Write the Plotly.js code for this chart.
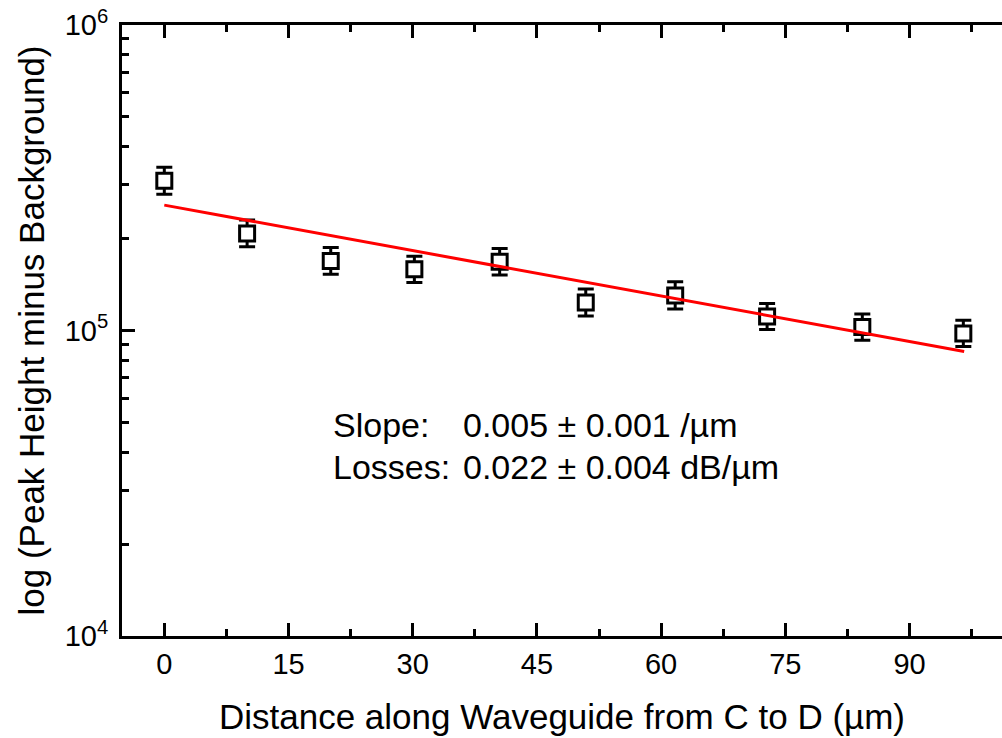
<!DOCTYPE html>
<html>
<head>
<meta charset="utf-8">
<script src="https://cdn.plot.ly/plotly-3.0.1.min.js"></script>
<style>
html,body{margin:0;padding:0;overflow:hidden;background:#fff;}
#chart{width:1002px;height:738px;}
</style>
</head>
<body>
<div id="chart"></div>
<script>
// Measured data (distance in µm, peak height minus background)
const distance = [0, 10, 20.1, 30.2, 40.5, 50.9, 61.7, 72.8, 84.3, 96.5];
const peakHeight = [309000, 207800, 169000, 158800, 167800, 123500, 130300, 111100, 102700, 97800];
const errPlus = [33000, 22000, 18000, 16300, 17800, 13100, 14000, 11500, 10600, 10300];
const errMinus = [29500, 19900, 16100, 15200, 16000, 11900, 12600, 10300, 9800, 9200];

// Exponential fit line endpoints
const fitX = [0, 96.6];
const fitY = [257300, 85400];

// Axis ticks
const xTicks = [0, 15, 30, 45, 60, 75, 90];
const yTickVals = [1e4, 1e5, 1e6];
const yTickText = ['10<sup>4</sup>', '10<sup>5</sup>', '10<sup>6</sup>'];
const yMinorVals = [2e4,3e4,4e4,5e4,6e4,7e4,8e4,9e4,2e5,3e5,4e5,5e5,6e5,7e5,8e5,9e5];

const FONT = '"Liberation Sans", Arial, sans-serif';

const data = [
  {
    x: distance, y: peakHeight, type: 'scatter', mode: 'markers',
    marker: {symbol: 'square', size: 15, color: 'white', line: {color: 'black', width: 3}},
    error_y: {type: 'data', symmetric: false, array: errPlus, arrayminus: errMinus,
              color: 'black', thickness: 3, width: 8},
    showlegend: false, hoverinfo: 'x+y'
  },
  {
    x: fitX, y: fitY, type: 'scatter', mode: 'lines',
    line: {color: '#ff0000', width: 3}, showlegend: false
  }
];

const layout = {
  width: 1002, height: 738,
  margin: {l: 122, r: 0, t: 25, b: 102, pad: 0},
  paper_bgcolor: 'white', plot_bgcolor: 'white',
  font: {family: FONT, color: 'black'},
  xaxis: {
    range: [-5.11, 101.17],
    tickmode: 'array', tickvals: xTicks,
    ticks: 'inside', ticklen: 13, tickwidth: 3, tickcolor: 'black',
    minor: {ticks: 'inside', ticklen: 7, tickwidth: 3, tickcolor: 'black', dtick: 7.5, tick0: 0, showgrid: false},
    showline: true, linewidth: 3, linecolor: 'black', mirror: 'allticks',
    showgrid: false, zeroline: false,
    tickfont: {size: 29, family: FONT, color: 'black'},
    ticklabelstandoff: 0,
    title: {text: 'Distance along Waveguide from C to D (µm)', font: {size: 35, family: FONT, color: 'black'}, standoff: 26}
  },
  yaxis: {
    type: 'log', range: [4, 6],
    tickmode: 'array', tickvals: yTickVals, ticktext: yTickText,
    ticks: 'inside', ticklen: 13, tickwidth: 3, tickcolor: 'black',
    minor: {ticks: 'inside', ticklen: 7, tickwidth: 3, tickcolor: 'black', tickvals: yMinorVals, showgrid: false},
    showline: true, linewidth: 3, linecolor: 'black', mirror: false,
    showgrid: false, zeroline: false,
    tickfont: {size: 29, family: FONT, color: 'black'},
    ticklabelstandoff: 5,
    title: {text: 'log (Peak Height minus Background)', font: {size: 35, family: FONT, color: 'black'}, standoff: 10}
  },
  yaxis2: {
    type: 'log', range: [4, 6], overlaying: 'y', side: 'right', anchor: 'x',
    tickmode: 'array', tickvals: yTickVals, showticklabels: false,
    ticks: 'inside', ticklen: 7, tickwidth: 3, tickcolor: 'black',
    minor: {ticks: 'inside', ticklen: 2, tickwidth: 3, tickcolor: 'black', tickvals: yMinorVals, showgrid: false},
    showline: false, showgrid: false, zeroline: false
  },
  annotations: [
    {xref: 'paper', yref: 'paper', x: 0.2373, y: 0.3453, xanchor: 'left', yanchor: 'middle', showarrow: false,
     text: 'Slope:', font: {size: 34, family: FONT, color: 'black'}},
    {xref: 'paper', yref: 'paper', x: 0.3853, y: 0.3453, xanchor: 'left', yanchor: 'middle', showarrow: false,
     text: '0.005 ± 0.001 /µm', font: {size: 34, family: FONT, color: 'black'}},
    {xref: 'paper', yref: 'paper', x: 0.2373, y: 0.2766, xanchor: 'left', yanchor: 'middle', showarrow: false,
     text: 'Losses:', font: {size: 34, family: FONT, color: 'black'}},
    {xref: 'paper', yref: 'paper', x: 0.3853, y: 0.2766, xanchor: 'left', yanchor: 'middle', showarrow: false,
     text: '0.022 ± 0.004 dB/µm', font: {size: 34, family: FONT, color: 'black'}}
  ]
};

Plotly.newPlot('chart', data, layout, {displayModeBar: false, staticPlot: true});
</script>
</body>
</html>
